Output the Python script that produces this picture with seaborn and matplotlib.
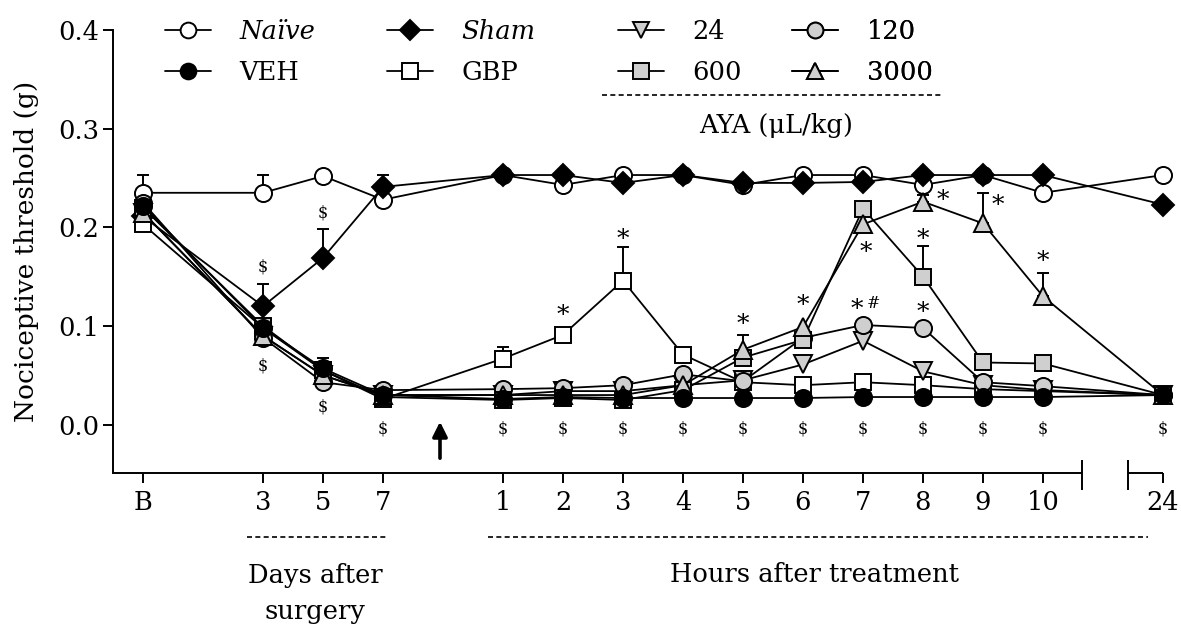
import numpy as np
import pandas as pd
import matplotlib
matplotlib.use("Agg")
import matplotlib.pyplot as plt
from matplotlib.lines import Line2D
import seaborn as sns

# ---------------- data ----------------
categories = ['B', '3', '5', '7', '1', '2', '3', '4', '5', '6', '7', '8', '9', '10', '24']
# groups of categories: baseline, days after surgery, hours after treatment, 24 h
segments = [1, 3, 10, 1]

naive = [0.235, 0.235, 0.252, 0.228, 0.253, 0.243, 0.253, 0.253, 0.243, 0.253, 0.253, 0.243, 0.253, 0.235, 0.253]
sham  = [0.211, 0.120, 0.169, 0.241, 0.253, 0.253, 0.245, 0.253, 0.245, 0.245, 0.246, 0.253, 0.253, 0.253, 0.223]
veh   = [0.222, 0.098, 0.057, 0.030, 0.026, 0.028, 0.027, 0.027, 0.027, 0.027, 0.028, 0.028, 0.028, 0.028, 0.030]
gbp   = [0.203, 0.098, 0.055, 0.026, 0.067, 0.091, 0.146, 0.071, 0.043, 0.040, 0.043, 0.040, 0.036, 0.034, 0.030]
aya24   = [0.215, 0.090, 0.050, 0.030, 0.030, 0.034, 0.034, 0.040, 0.045, 0.061, 0.085, 0.054, 0.040, 0.035, 0.030]
aya120  = [0.225, 0.088, 0.043, 0.035, 0.036, 0.037, 0.040, 0.051, 0.044, 0.088, 0.101, 0.098, 0.043, 0.039, 0.030]
aya600  = [0.220, 0.100, 0.055, 0.028, 0.025, 0.027, 0.025, 0.035, 0.068, 0.086, 0.219, 0.150, 0.063, 0.062, 0.030]
aya3000 = [0.215, 0.090, 0.050, 0.030, 0.030, 0.030, 0.030, 0.040, 0.076, 0.099, 0.203, 0.226, 0.204, 0.130, 0.030]

# upper SEM (only the visible ones)
naive_err   = [0.018, 0.018, 0, 0, 0, 0, 0, 0, 0, 0, 0, 0, 0, 0, 0]
sham_err    = [0, 0.023, 0.029, 0.012, 0, 0, 0, 0, 0, 0, 0, 0, 0, 0, 0]
veh_err     = [0, 0, 0.011, 0, 0, 0, 0, 0, 0, 0, 0, 0, 0, 0, 0]
gbp_err     = [0, 0, 0, 0, 0.012, 0.003, 0.034, 0.004, 0, 0, 0, 0, 0, 0, 0]
aya24_err   = [0] * 15
aya120_err  = [0] * 15
aya600_err  = [0, 0, 0, 0, 0, 0, 0, 0, 0, 0, 0, 0.031, 0, 0, 0]
aya3000_err = [0, 0, 0, 0, 0, 0, 0, 0, 0.015, 0, 0, 0.007, 0.031, 0.024, 0]

# significance marks: (category index, y value[, x shift])
dollar_marks = [(1, 0.160), (1, 0.059), (2, 0.215), (2, 0.018)] + [(i, -0.004) for i in range(3, 15)]
star_marks = [(5, 0.117, 0.0), (6, 0.194, 0.0), (8, 0.108, 0.0), (9, 0.127, 0.0),
              (10, 0.123, -0.1), (10, 0.180, 0.05), (11, 0.194, 0.0), (11, 0.120, 0.0),
              (11, 0.233, 0.33), (12, 0.228, 0.24), (13, 0.171, 0.0)]
hash_marks = [(10, 0.123, 0.17)]

# ---------------- positions of categories (with gaps between segments) ----------------
positions = []
p = 0
for k, n in enumerate(segments):
    for j in range(n):
        positions.append(p)
        p += 1
    p += 1
positions = np.array(positions, dtype=float)

# ---------------- style ----------------
sns.set_theme(style="ticks")
plt.rcParams['font.family'] = ['DejaVu Serif']
plt.rcParams['text.color'] = 'black'
plt.rcParams['axes.labelcolor'] = 'black'
plt.rcParams['xtick.color'] = 'black'
plt.rcParams['ytick.color'] = 'black'
FS = 18.5
GREY = '#cfcfcf'

fig = plt.figure(figsize=(11.81, 6.32), dpi=100)
ax = fig.add_axes([113 / 1181, 1 - 473 / 632, 1050 / 1181, (473 - 30) / 632])

series = [
    ("Naïve", naive, naive_err, 'o', 'white'),
    ("Sham", sham, sham_err, 'D', 'black'),
    ("GBP", gbp, gbp_err, 's', 'white'),
    ("24", aya24, aya24_err, 'v', GREY),
    ("120", aya120, aya120_err, 'o', GREY),
    ("600", aya600, aya600_err, 's', GREY),
    ("3000", aya3000, aya3000_err, '^', GREY),
    ("VEH", veh, veh_err, 'o', 'black'),
]
msize = {'o': 12.3, 'D': 10.8, 's': 12, 'v': 12.3, '^': 12.3}

for name, vals, err, mk, fc in series:
    vals = np.array(vals)
    err = np.array(err)
    m = err > 0
    if m.any():
        ax.errorbar(positions[m], vals[m], yerr=[np.zeros(m.sum()), err[m]], fmt='none',
                    ecolor='black', elinewidth=1.4, capsize=4.5, capthick=1.4, clip_on=False, zorder=2)
    df = pd.DataFrame({'x': positions, 'y': vals})
    sns.lineplot(data=df, x='x', y='y', ax=ax, color='black', linewidth=1.3,
                 marker=mk, markersize=msize[mk], markerfacecolor=fc, markeredgecolor='black',
                 markeredgewidth=1.4, clip_on=False, zorder=3, legend=False)

# ---------------- axes ----------------
ymin, ymax = -0.049, 0.4
ax.set_xlim(-0.5, 17)
ax.set_ylim(ymin, ymax)
ax.set_yticks([0.0, 0.1, 0.2, 0.3, 0.4])
ax.set_yticklabels(['0.0', '0.1', '0.2', '0.3', '0.4'], fontsize=FS)
ax.set_xticks(positions)
ax.set_xticklabels(categories, fontsize=FS)
ax.tick_params(axis='both', direction='out', length=7, width=1.4, color='black', labelcolor='black')
ax.tick_params(axis='x', pad=5)
ax.tick_params(axis='y', pad=3)
ax.set_xlabel('')
ax.set_ylabel('Nociceptive threshold (g)', fontsize=FS + 0.5, color='black')
ax.yaxis.set_label_coords(-0.070, 0.5)
for s in ['top', 'right', 'bottom']:
    ax.spines[s].set_visible(False)
ax.spines['left'].set_linewidth(1.4)
ax.spines['left'].set_color('black')
ax.spines['left'].set_bounds(ymin, ymax)

# broken x axis
b1, b2 = 15.65, 16.42
dy_up, dy_dn = 0.013, 0.017
axkw = dict(color='black', lw=1.4, clip_on=False, zorder=1, solid_capstyle='butt')
ax.plot([-0.5, b1], [ymin, ymin], **axkw)
ax.plot([b1, b1], [ymin + dy_up, ymin - dy_dn], **axkw)
ax.plot([b2, 17], [ymin, ymin], **axkw)
ax.plot([b2, b2], [ymin + dy_up, ymin - dy_dn], **axkw)

# treatment arrow
ax.annotate('', xy=(4.95, 0.003), xytext=(4.95, -0.034),
            arrowprops=dict(arrowstyle='-|>', color='black', lw=2.6, mutation_scale=22,
                            shrinkA=0, shrinkB=0))

# significance marks
for i, y in dollar_marks:
    ax.text(positions[i], y, '$', fontsize=11.5, ha='center', va='center', color='black')
for i, y, dx in star_marks:
    ax.text(positions[i] + dx, y - 0.006, '*', fontsize=18, ha='center', va='center', color='black')
for i, y, dx in hash_marks:
    ax.text(positions[i] + dx, y, '#', fontsize=11.5, ha='center', va='center', color='black')

# ---------------- legends (one column each) ----------------
def handle(mk, fc):
    return Line2D([], [], color='black', lw=1.3, marker=mk, markersize=msize[mk] * 0.92,
                  markerfacecolor=fc, markeredgecolor='black', markeredgewidth=1.4)

legend_cols = [
    (165, [handle('o', 'white'), handle('o', 'black')], ['Naïve', 'VEH']),
    (387, [handle('D', 'black'), handle('s', 'white')], ['Sham', 'GBP']),
    (618, [handle('v', GREY), handle('s', GREY)], ['24', '600']),
    (792, [handle('o', GREY), handle('^', GREY)], ['120', '3000']),
]
for xpix, hs, ls in legend_cols:
    leg = ax.legend(hs, ls, ncol=1, loc='upper left', bbox_to_anchor=(xpix / 1181, 1 - 19 / 632),
                    bbox_transform=fig.transFigure, frameon=False, fontsize=FS,
                    handlelength=1.8, handletextpad=1.1, labelspacing=0.62,
                    borderpad=0, borderaxespad=0)
    for t in leg.get_texts():
        t.set_color('black')
        if t.get_text() in ('Naïve', 'Sham'):
            t.set_fontstyle('italic')
    ax.add_artist(leg)

fig.add_artist(Line2D([602 / 1181, 942 / 1181], [1 - 95 / 632, 1 - 95 / 632], color='black',
                      lw=1.2, ls=(0, (3, 2))))
fig.text(776 / 1181, 1 - 126 / 632, 'AYA (μL/kg)', fontsize=FS, ha='center', va='center')

# x group labels
fig.add_artist(Line2D([247 / 1181, 387 / 1181], [1 - 537 / 632, 1 - 537 / 632], color='black',
                      lw=1.2, ls=(0, (3, 2))))
fig.add_artist(Line2D([488 / 1181, 1148 / 1181], [1 - 537 / 632, 1 - 537 / 632], color='black',
                      lw=1.2, ls=(0, (3, 2))))
fig.text(315 / 1181, 1 - 575 / 632, 'Days after', fontsize=FS, ha='center', va='center')
fig.text(315 / 1181, 1 - 612 / 632, 'surgery', fontsize=FS, ha='center', va='center')
fig.text(815 / 1181, 1 - 575 / 632, 'Hours after treatment', fontsize=FS, ha='center', va='center')

fig.savefig('out.png', dpi=100, facecolor='white')
